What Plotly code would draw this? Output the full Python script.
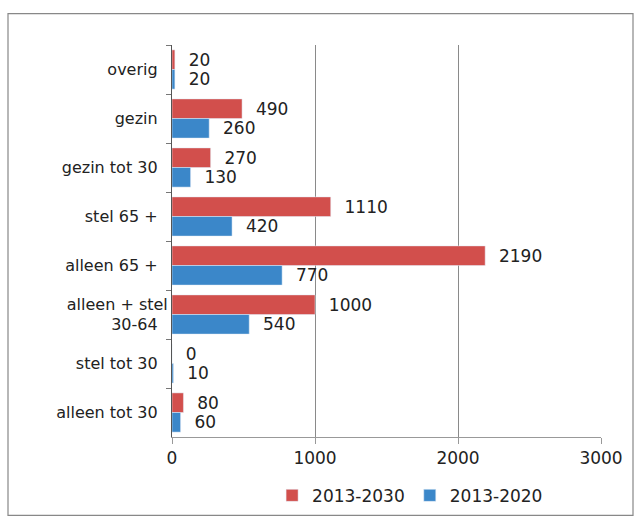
import plotly.graph_objects as go

categories = ["overig", "gezin", "gezin tot 30", "stel 65 +", "alleen 65 +",
              "alleen + stel<br>30-64", "stel tot 30", "alleen tot 30"]
s2030 = [20, 490, 270, 1110, 2190, 1000, 0, 80]
s2020 = [20, 260, 130, 420, 770, 540, 10, 60]
x_ticks = [0, 1000, 2000, 3000]

RED = "#d24f4c"
BLUE = "#3b87c9"
FONT = "DejaVu Sans"

fig = go.Figure()
for name, vals, col in [("2013-2030", s2030, RED), ("2013-2020", s2020, BLUE)]:
    fig.add_trace(go.Bar(y=categories, x=vals, orientation="h", name=name,
                         marker_color=col, text=["  " + str(v) for v in vals],
                         textposition="outside", cliponaxis=False,
                         constraintext="none",
                         textfont=dict(size=17, color="#222")))

W, H = 636, 526
L, R, T, B = 172, 35, 45, 81
pw, ph = W - L - R, H - T - B

fig.update_layout(
    width=W, height=H,
    margin=dict(l=L, r=R, t=T, b=B),
    paper_bgcolor="white", plot_bgcolor="white",
    barmode="group", bargap=0.2, bargroupgap=0.0,
    font=dict(family=FONT, size=16, color="#222"),
    showlegend=True,
    legend=dict(orientation="h", x=0.555, xanchor="center", y=-0.15, yanchor="middle",
                font=dict(size=17), itemwidth=30, traceorder="normal"),
    xaxis=dict(range=[0, 3000], tickvals=x_ticks, ticktext=[str(v) for v in x_ticks],
               showgrid=True, gridcolor="#8a8a8a", gridwidth=1,
               showline=True, linecolor="#999", linewidth=1,
               ticks="outside", ticklen=6, tickcolor="#999",
               tickfont=dict(size=17), zeroline=False, fixedrange=True),
    yaxis=dict(autorange="reversed", showline=True, linecolor="#555", linewidth=1,
               ticks="outside", ticklen=5, tickcolor="#777", tickson="boundaries",
               tickfont=dict(size=16), showgrid=False, ticksuffix="  ", fixedrange=True),
    shapes=[dict(type="rect", xref="paper", yref="paper",
                 x0=(8 - L) / pw, x1=(633 - L) / pw,
                 y0=(T + ph - (H - 1)) / ph, y1=(H - B - 13) / ph,
                 line=dict(color="#888", width=1.2), fillcolor="rgba(0,0,0,0)")],
)
fig.write_html("out.html")
